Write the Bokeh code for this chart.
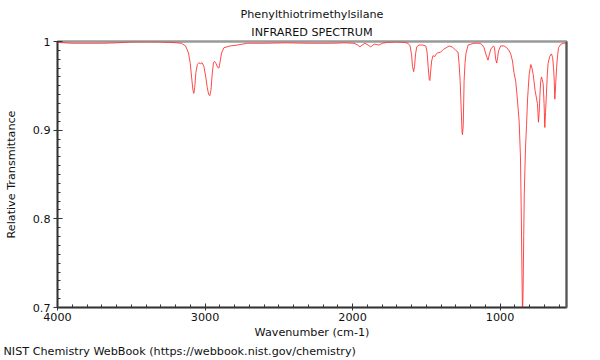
from bokeh.plotting import figure
from bokeh.models import Range1d, FixedTicker, LinearAxis, Title
from bokeh.embed import file_html
from bokeh.resources import INLINE

title_main = "Phenylthiotrimethylsilane"
title_sub = "INFRARED SPECTRUM"
x_label = "Wavenumber (cm-1)"
y_label = "Relative Transmittance"
footer = "NIST Chemistry WebBook (https://webbook.nist.gov/chemistry)"

x_major = [1000, 2000, 3000, 4000]
y_major = [0.7, 0.8, 0.9, 1.0]
y_labels = {0.7: "0.7", 0.8: "0.8", 0.9: "0.9", 1.0: "1"}

wavenumber = [
    4000, 3900, 3800, 3700, 3600, 3500, 3400, 3300, 3240, 3190, 3160, 3132, 3112,
    3100, 3090, 3082, 3076, 3070, 3062, 3052, 3042, 3030, 3020, 3008, 2995, 2985,
    2975, 2967, 2960, 2952, 2943, 2935, 2925, 2915, 2906, 2898, 2888, 2872, 2830,
    2781, 2713, 2600, 2450, 2300, 2150, 2050, 1990, 1965, 1950, 1935, 1916, 1895,
    1877, 1862, 1850, 1835, 1821, 1798, 1764, 1700, 1650, 1625, 1610, 1600, 1594,
    1586, 1580, 1573, 1565, 1550, 1525, 1504, 1495, 1488, 1480, 1476, 1470, 1464,
    1455, 1443, 1435, 1425, 1403, 1385, 1369, 1346, 1323, 1301, 1285, 1278, 1271,
    1264, 1258, 1255, 1250, 1244, 1238, 1232, 1217, 1177, 1136, 1120, 1109, 1095,
    1082, 1072, 1063, 1045, 1038, 1030, 1023, 1016, 1011, 996, 973, 955, 939, 928,
    916, 906, 894, 883, 871, 862, 856, 852, 848, 844, 840, 836, 828, 821, 814, 803,
    792, 784, 776, 763, 747, 740, 735, 731, 725, 720, 714, 708, 702, 697, 692, 686,
    680, 675, 664, 652, 644, 638, 633, 629, 624, 617, 610, 604, 588, 570, 550,
]
transmittance = [
    0.999, 0.998, 0.998, 0.998, 0.9985, 0.9995, 0.9997, 0.9995, 0.999, 0.9985, 0.998, 0.995, 0.987,
    0.975, 0.958, 0.945, 0.9415, 0.948, 0.965, 0.974, 0.976, 0.975, 0.976, 0.972, 0.960, 0.948,
    0.940, 0.939, 0.945, 0.962, 0.976, 0.9775, 0.975, 0.971, 0.970, 0.977, 0.987, 0.993, 0.995,
    0.996, 0.998, 0.998, 0.9985, 0.998, 0.998, 0.9985, 0.998, 0.996, 0.994, 0.996, 0.998, 0.996,
    0.994, 0.996, 0.997, 0.9965, 0.996, 0.998, 0.999, 0.9995, 0.999, 0.998, 0.995, 0.985, 0.972,
    0.966, 0.972, 0.986, 0.994, 0.996, 0.996, 0.995, 0.988, 0.972, 0.957, 0.956, 0.968, 0.978,
    0.984, 0.983, 0.9855, 0.987, 0.988, 0.991, 0.9925, 0.995, 0.9937, 0.990, 0.988, 0.975, 0.956,
    0.925, 0.898, 0.895, 0.905, 0.956, 0.975, 0.986, 0.996, 0.998, 0.998, 0.996, 0.993, 0.985,
    0.979, 0.986, 0.9915, 0.995, 0.993, 0.980, 0.9757, 0.983, 0.9895, 0.995, 0.995, 0.993, 0.9895, 0.986,
    0.978, 0.965, 0.955, 0.935, 0.91, 0.87, 0.80, 0.74, 0.69, 0.72, 0.78, 0.83, 0.88, 0.905, 0.935, 0.963,
    0.974, 0.970, 0.963, 0.945, 0.930, 0.909, 0.920, 0.937, 0.955, 0.960, 0.957, 0.952, 0.930, 0.903, 0.920, 0.941,
    0.963, 0.975, 0.983, 0.986, 0.982, 0.971, 0.955, 0.935, 0.950, 0.971, 0.985, 0.993, 0.997, 0.998, 0.998,
]

FONT = "DejaVu Sans"
FS = "11.2px"

p = figure(width=600, height=360,
           x_range=Range1d(4000, 550), y_range=Range1d(0.7, 1.0),
           output_backend="svg", toolbar_location=None,
           min_border_left=57, min_border_right=34,
           min_border_top=41, min_border_bottom=53)
p.outline_line_color = "#9a9a9a"
p.outline_line_width = 2.5
p.grid.visible = False
p.background_fill_color = "white"
p.border_fill_color = "white"

p.line(wavenumber, transmittance, line_color="#ff2a2a", line_width=1, line_alpha=0.85)

xa = p.xaxis[0]
xa.ticker = FixedTicker(ticks=x_major, minor_ticks=list(range(600, 4001, 100)))
xa.axis_label = x_label
xa.axis_label_standoff = 2
xa.major_tick_in = 4
xa.major_tick_out = 3
xa.minor_tick_in = 3
xa.minor_tick_out = 0
xa.major_label_standoff = 2

ya = p.yaxis[0]
ya.ticker = FixedTicker(ticks=y_major, minor_ticks=[round(0.7 + 0.01 * i, 2) for i in range(31)])
ya.major_label_overrides = y_labels
ya.axis_label = y_label
ya.axis_label_standoff = 12
ya.major_tick_in = 5
ya.major_tick_out = 4
ya.minor_tick_in = 3
ya.minor_tick_out = 0
ya.major_label_standoff = 3

for ax in (xa, ya):
    ax.axis_line_color = "#333333"
    ax.axis_line_width = 1.5
    ax.major_tick_line_color = "#333333"
    ax.minor_tick_line_color = "#333333"
    ax.major_label_text_font = FONT
    ax.major_label_text_font_size = FS
    ax.major_label_text_color = "#111111"
    ax.axis_label_text_font = FONT
    ax.axis_label_text_font_size = FS
    ax.axis_label_text_font_style = "normal"
    ax.axis_label_text_color = "#111111"

ra = LinearAxis(ticker=FixedTicker(ticks=[]))
ra.axis_line_color = "#555555"
ra.axis_line_width = 1.8
ra.major_tick_line_color = None
ra.minor_tick_line_color = None
ra.major_label_standoff = 0
ra.major_label_text_font_size = "0px"
p.add_layout(ra, "right")

p.add_layout(Title(text=title_sub, align="center", standoff=5,
                   text_font=FONT, text_font_size=FS, text_font_style="normal",
                   text_color="#111111"), "above")
p.add_layout(Title(text=title_main, align="center", standoff=2,
                   text_font=FONT, text_font_size=FS, text_font_style="normal",
                   text_color="#111111"), "above")
p.add_layout(Title(text=footer, align="left", offset=-54, standoff=2,
                   text_font=FONT, text_font_size=FS, text_font_style="normal",
                   text_color="#111111"), "below")

open("out.html", "w").write(file_html(p, INLINE))
